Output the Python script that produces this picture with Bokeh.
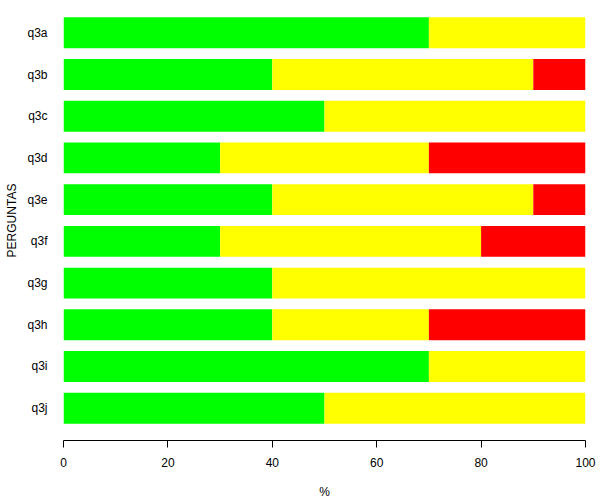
from bokeh.plotting import figure
from bokeh.models import Range1d, FactorRange, ColumnDataSource
from bokeh.embed import file_html
from bokeh.resources import INLINE

questions = ["q3a", "q3b", "q3c", "q3d", "q3e", "q3f", "q3g", "q3h", "q3i", "q3j"]
green_vals = [70, 40, 50, 30, 40, 30, 40, 40, 70, 50]
yellow_vals = [30, 50, 50, 40, 50, 50, 60, 30, 30, 50]
red_vals = [0, 10, 0, 30, 10, 20, 0, 30, 0, 0]
x_ticks = [0, 20, 40, 60, 80, 100]

source = ColumnDataSource(dict(q=questions, verde=green_vals, amarelo=yellow_vals, vermelho=red_vals))

factors = list(reversed(questions))
p = figure(width=600, height=501, output_backend="svg", toolbar_location=None, title=None,
           x_range=Range1d(0, 100),
           y_range=FactorRange(factors=factors, range_padding=0.274, range_padding_units="absolute"),
           min_border_left=63, min_border_right=15, min_border_top=0, min_border_bottom=58)

p.hbar_stack(["verde", "amarelo", "vermelho"], y="q", height=0.74, source=source,
             color=["#00FF00", "#FFFF00", "#FF0000"], line_color=None)

p.outline_line_color = None
p.xgrid.grid_line_color = None
p.ygrid.grid_line_color = None
p.background_fill_color = "white"
p.border_fill_color = "white"

font = "Liberation Sans"
xa = p.xaxis[0]
xa.ticker = x_ticks
xa.axis_label = "%"
xa.axis_line_color = "black"
xa.major_tick_line_color = "black"
xa.major_tick_out = 7
xa.major_tick_in = 0
xa.minor_tick_line_color = None
xa.minor_tick_out = 0
xa.major_label_standoff = 10
xa.major_label_text_font = font
xa.major_label_text_font_size = "12px"
xa.major_label_text_color = "black"
xa.axis_label_text_font = font
xa.axis_label_text_font_size = "12px"
xa.axis_label_text_font_style = "normal"
xa.axis_label_text_color = "black"
xa.axis_label_standoff = 15

ya = p.yaxis[0]
ya.axis_label = "PERGUNTAS"
ya.axis_line_color = None
ya.major_tick_line_color = None
ya.minor_tick_line_color = None
ya.major_tick_out = 0
ya.major_tick_in = 0
ya.minor_tick_out = 0
ya.major_label_standoff = 16
ya.major_label_text_font = font
ya.major_label_text_font_size = "12px"
ya.major_label_text_color = "black"
ya.axis_label_text_font = font
ya.axis_label_text_font_size = "12px"
ya.axis_label_text_font_style = "normal"
ya.axis_label_text_color = "black"
ya.axis_label_standoff = 5

open("out.html", "w").write(file_html(p, INLINE))
